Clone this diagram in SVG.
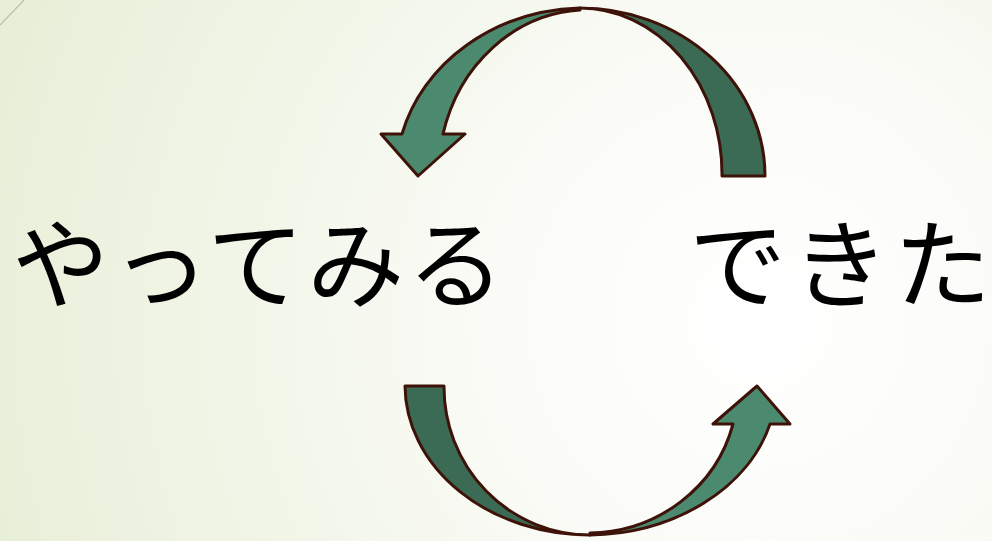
<svg xmlns="http://www.w3.org/2000/svg" width="992" height="541" viewBox="0 0 992 541">
<defs>
<radialGradient id="bg" cx="760" cy="320" r="800" gradientUnits="userSpaceOnUse">
<stop offset="0" stop-color="#ffffff"/>
<stop offset="0.3" stop-color="#fbfcf8"/>
<stop offset="1" stop-color="#e8efd8"/>
</radialGradient>
<style>
.light{fill:#4b8a6e;stroke:#3e1208;stroke-width:3;stroke-linejoin:round}
.dark{fill:#3c6b55;stroke:#3e1208;stroke-width:3;stroke-linejoin:round}
.lbl{font-family:"Noto Sans CJK JP","Noto Sans",sans-serif;font-size:97px;fill:#000}
</style>
</defs>
<rect width="992" height="541" fill="url(#bg)"/>
<line x1="0" y1="25" x2="24" y2="0" stroke="#b9bda9" stroke-width="1.2"/>
<g id="connectors">
<g id="top-arrow">
<path class="dark" d="M765,176 A185,168 0 0 0 580,8 A142,166 0 0 1 722,176 Z"/>
<path class="light" d="M580,8 A190,168 0 0 0 402,134 L381,134 L418,176 L465,134 L443,134 A150,165 0 0 1 580,10 Z"/>
</g>
<g id="bottom-arrow">
<path class="dark" d="M405,386 A185,150 0 0 0 590,535 A146,148 0 0 1 444,386 Z"/>
<path class="light" d="M590,535 A190,150 0 0 0 770,424 L790,424 L757,386 L713,424 L733,424 A150,145 0 0 1 590,533 Z"/>
</g>
</g>
<g id="node-yattemiru"><text class="lbl" x="12" y="300" letter-spacing="3">やってみる</text></g>
<g id="node-dekita"><text class="lbl" y="300"><tspan x="689">で</tspan><tspan x="792">き</tspan><tspan x="894">た</tspan></text></g>
</svg>
